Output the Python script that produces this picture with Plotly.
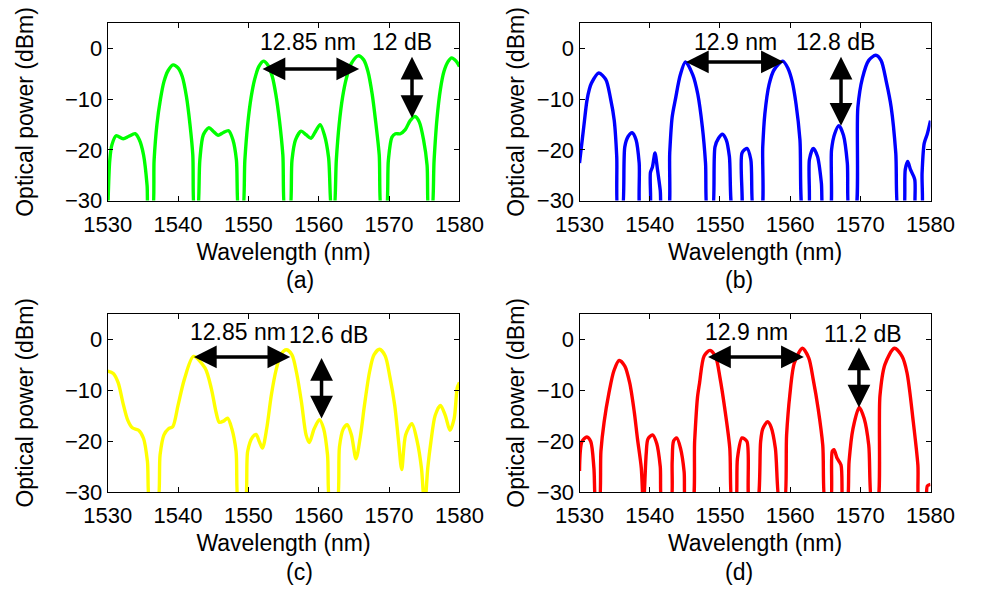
import plotly.graph_objects as go

# Measured optical spectra (wavelength in nm, power in dBm) for the four cases
wl_a = [1530.0, 1530.3, 1530.6, 1531.2, 1532.2, 1533.0, 1533.9, 1534.5, 1535.1, 1535.6, 1535.85,
        1536.3, 1536.6, 1537.0, 1537.5, 1538.0, 1538.6, 1539.3, 1540.0, 1540.6, 1541.2, 1541.7, 1542.1, 1542.4,
        1542.7, 1543.1, 1543.6, 1544.4, 1545.0, 1545.7, 1546.4, 1547.2, 1547.8, 1548.3, 1548.7,
        1549.1, 1549.5, 1549.9, 1550.4, 1550.9, 1551.5, 1552.15, 1552.8, 1553.4, 1553.9, 1554.4, 1554.9, 1555.3,
        1555.8, 1556.2, 1556.7, 1557.5, 1558.2, 1558.9, 1559.6, 1560.2, 1560.8, 1561.4, 1561.9,
        1562.1, 1562.5, 1562.9, 1563.4, 1563.9, 1564.6, 1565.6, 1566.4, 1567.0, 1567.6, 1568.1, 1568.6, 1569.0,
        1569.5, 1569.9, 1570.4, 1570.9, 1571.6, 1572.3, 1573.0, 1573.7, 1574.3, 1574.9, 1575.4, 1575.7,
        1576.0, 1576.4, 1576.8, 1577.3, 1577.8, 1578.4, 1578.9, 1579.5, 1580.0]
pw_a = [-33, -22, -19, -17.2, -17.8, -17.3, -16.8, -18, -21, -27, -33,
        -33, -22, -15, -10, -6.5, -4.3, -3.2, -3.8, -5.5, -9.5, -15, -21, -33,
        -33, -22, -17, -15.6, -16.3, -17.1, -16.6, -16.2, -18, -22, -33,
        -33, -22, -15, -9.5, -6, -3.5, -2.45, -3.3, -5.5, -9, -14, -21, -33,
        -33, -22, -18, -16.3, -17, -17.7, -16.2, -15.0, -17, -21.5, -33,
        -33, -22, -15, -9.5, -6, -3, -1.4, -2.2, -4.5, -9, -14.5, -21, -33,
        -33, -22, -17.5, -16.8, -16.8, -16, -14.2, -13.4, -14.5, -18, -23, -33,
        -33, -22, -14, -8, -4.5, -2.5, -1.8, -2.4, -3.5]

wl_b = [1530.0, 1530.6, 1531.05, 1531.4, 1531.7, 1532.75, 1533.75, 1534.4, 1534.95, 1535.3, 1535.55,
        1536.0, 1536.45, 1536.9, 1537.5, 1538.05, 1538.5, 1538.8,
        1539.9, 1540.1, 1540.4, 1540.75, 1541.1, 1541.5, 1541.8,
        1542.55, 1542.85, 1543.2, 1543.7, 1544.35, 1545.1, 1546.15, 1546.85, 1547.5, 1547.95, 1548.3,
        1548.85, 1549.3, 1549.8, 1550.35, 1550.9, 1551.35, 1551.95,
        1552.95, 1553.15, 1553.85, 1554.4, 1554.9,
        1555.8, 1556.1, 1556.4, 1557.0, 1557.7, 1558.95, 1559.7, 1560.3, 1560.85, 1561.4, 1561.9,
        1562.55, 1562.75, 1563.3, 1563.9, 1564.45, 1564.8,
        1565.6, 1565.9, 1566.35, 1566.95, 1567.6, 1568.15, 1568.5,
        1569.2, 1569.65, 1570.3, 1571.2, 1572.2, 1572.95, 1573.7, 1574.4, 1575.05, 1575.5,
        1576.1, 1576.4, 1576.75, 1577.15, 1577.75, 1577.95,
        1578.65, 1578.8, 1579.1, 1579.55, 1580.0]
pw_b = [-22.6, -15.5, -10.3, -8, -6.8, -4.8, -6.1, -9.7, -14.2, -21.3, -33,
        -33, -19.4, -17.4, -16.6, -18, -22.6, -33,
        -33, -24.5, -23.3, -20.6, -23.8, -28, -33,
        -33, -20.6, -13.5, -9.7, -5.2, -2.6, -5.2, -9, -15.5, -22.6, -33,
        -33, -19.4, -17.7, -16.9, -18, -21.3, -33,
        -33, -20.6, -19.7, -21.9, -33,
        -33, -19.4, -12.9, -7.1, -4.2, -2.45, -3.9, -6.5, -11, -18, -33,
        -33, -21.9, -19.7, -21.3, -26.5, -33,
        -33, -20, -16.8, -15.2, -17.1, -22.6, -33,
        -33, -11.6, -5.8, -2.3, -1.3, -2.3, -6.5, -11.6, -20.6, -33,
        -33, -23.9, -22.3, -23.9, -25.8, -33,
        -33, -24.5, -18.7, -16.8, -14.2]

wl_c = [1530.0, 1530.8, 1531.5, 1532.15, 1532.85, 1533.5, 1534.4, 1535.1, 1535.65, 1536.1,
        1537.0, 1537.45, 1538.0, 1538.65, 1539.25, 1540.0, 1540.9, 1542.2, 1543.85, 1544.75,
        1545.4, 1545.85, 1546.45, 1547.05, 1547.65, 1548.25, 1548.7,
        1549.45, 1549.9, 1550.6, 1551.1, 1551.55, 1552.0, 1552.6, 1553.25, 1553.95, 1554.6, 1555.4,
        1556.2, 1556.85, 1557.55, 1558.2, 1558.65, 1559.35, 1560.1, 1560.7, 1561.25, 1561.7,
        1562.5, 1562.95, 1563.5, 1564.05, 1564.65, 1565.3, 1565.95, 1566.5, 1567.2, 1567.85, 1568.65,
        1569.45, 1570.1, 1570.8, 1571.35, 1571.8, 1572.35, 1573.25, 1574.0, 1574.6, 1575.05,
        1575.5, 1575.95, 1576.55, 1577.3, 1578.0, 1578.65, 1579.25, 1579.7, 1580.0]
pw_c = [-6.3, -6.75, -8.6, -12.4, -15.9, -17.4, -17.9, -19.5, -24, -33,
        -33, -22.7, -18.8, -17.6, -17.2, -13, -7.9, -3.4, -5.7, -9.8,
        -14.3, -16.3, -16.1, -15.5, -17.6, -22, -33,
        -33, -22, -19.2, -18.7, -20.1, -21.4, -17.6, -11.1, -6, -3.1, -2.1,
        -3.1, -6.6, -12.4, -18.8, -20.3, -17.6, -15.8, -17.6, -22.7, -33,
        -33, -21.1, -17.6, -16.8, -18.8, -23.5, -18.8, -13, -6.6, -3.1, -2.0,
        -3.3, -7.3, -13, -20.1, -25.6, -18.8, -16.6, -20.1, -25.3, -33,
        -25.3, -20.1, -15, -13, -15, -17.9, -15.6, -9.5, -8.5]

wl_d = [1530.0, 1530.35, 1531.05, 1531.6, 1532.05, 1532.4,
        1532.75, 1533.05, 1533.5, 1534.2, 1534.9, 1535.65, 1536.45, 1537.15, 1537.8, 1538.25, 1538.8, 1539.1,
        1539.5, 1539.75, 1540.4, 1541.0, 1541.5, 1541.85,
        1542.9, 1543.2, 1543.4, 1543.85, 1544.4, 1544.9, 1545.2,
        1546.0, 1546.4, 1546.8, 1547.1, 1547.75, 1548.6, 1549.4, 1550.0, 1550.7, 1551.4, 1551.8,
        1552.2, 1552.5, 1553.15, 1553.85, 1554.3,
        1555.2, 1555.8, 1556.1, 1556.8, 1557.3, 1557.9, 1558.6,
        1559.1, 1559.5, 1559.95, 1560.6, 1561.75, 1562.65, 1563.3, 1564.0, 1564.65, 1565.1,
        1565.7, 1566.0, 1566.25, 1566.7, 1567.25, 1567.6,
        1568.05, 1568.4, 1568.95, 1569.85, 1570.55, 1571.2, 1571.75,
        1572.35, 1572.8, 1573.5, 1574.85, 1575.95, 1576.65, 1577.55, 1578.2, 1578.45,
        1579.25, 1579.55, 1580.0]
pw_d = [-25.9, -20.1, -19.2, -20.1, -25.3, -33,
        -33, -22, -16.3, -10.5, -6.2, -4.2, -5.3, -8.6, -14.3, -19.5, -25.3, -33,
        -22.5, -19.6, -18.8, -20.5, -25, -33,
        -33, -24, -20, -19.4, -21.5, -26, -33,
        -33, -20, -11.5, -8.6, -3.3, -2.2, -3.5, -7.5, -13.7, -21.3, -33,
        -33, -23.4, -19.4, -20.1, -33,
        -33, -20.1, -17.6, -16.2, -17.3, -21.4, -33,
        -33, -18.8, -11.1, -4.7, -1.8, -3.7, -8, -13.7, -20.8, -33,
        -33, -22, -21.7, -23.4, -24.7, -33,
        -33, -24, -17.6, -13.4, -15.6, -20.8, -33,
        -33, -11.1, -5, -1.8, -3.4, -6.6, -16.3, -24.7, -33,
        -33, -28.8, -28.5]

colors = ["#00ff00", "#0000ff", "#ffff00", "#ff0000"]
panel_labels = ["(a)", "(b)", "(c)", "(d)"]

# Channel spacing arrows: [start wavelength, end wavelength, power]
spacing_arrows = [[1551.8, 1565.75, -4.0], [1544.95, 1559.1, -2.6],
                  [1542.05, 1555.95, -3.5], [1548.1, 1561.95, -3.5]]
spacing_text = ["12.85 nm", "12.9 nm", "12.85 nm", "12.9 nm"]
spacing_text_pos = [[1558.45, 1.3], [1552.15, 1.3], [1548.55, 1.4], [1553.75, 1.4]]

# Extinction arrows: [wavelength, top power, bottom power]
depth_arrows = [[1573.26, -1.3, -13.7], [1567.25, -1.3, -15.2],
                [1560.4, -3.4, -15.6], [1569.8, -1.35, -13.4]]
depth_text = ["12 dB", "12.8 dB", "12.6 dB", "11.2 dB"]
depth_text_pos = [[1571.9, 1.3], [1566.5, 1.3], [1561.35, 0.8], [1570.4, 1.1]]

x_ticks = [1530, 1540, 1550, 1560, 1570, 1580]
y_ticks = [-30, -20, -10, 0]

FONT = "Liberation Sans, Arial, Helvetica, sans-serif"
TICK_FS = 22
TITLE_FS = 23
NOTE_FS = 23

x_domains = [[0.0894, 0.4652], [0.5935, 0.9685], [0.0894, 0.4652], [0.5935, 0.9685]]
y_domains = [[0.6537, 0.9595], [0.6537, 0.9595], [0.1503, 0.4583], [0.1503, 0.4583]]
y_title_standoff = [24, 5, 24, 5]

series = [(wl_a, pw_a), (wl_b, pw_b), (wl_c, pw_c), (wl_d, pw_d)]

fig = go.Figure()
layout = dict(
    width=984, height=592,
    margin=dict(l=0, r=0, t=0, b=0),
    paper_bgcolor="white", plot_bgcolor="white",
    showlegend=False,
    font=dict(family=FONT, size=TICK_FS, color="black"),
)
annotations = []
arrow_style = dict(text="", showarrow=True, arrowhead=2, startarrowhead=2,
                   arrowside="end+start", arrowwidth=3.5, arrowsize=1.3,
                   startarrowsize=1.3, arrowcolor="black", standoff=0, startstandoff=0)

for i, (wl, pw) in enumerate(series):
    n = "" if i == 0 else str(i + 1)
    xa, ya = "x" + n, "y" + n
    fig.add_trace(go.Scatter(x=wl, y=pw, mode="lines", xaxis=xa, yaxis=ya,
                             line=dict(color=colors[i], width=3.4, shape="spline", smoothing=0.8),
                             hoverinfo="skip"))
    axis_common = dict(showline=True, linecolor="black", linewidth=1, mirror="ticks",
                       ticks="inside", ticklen=5, tickwidth=1, tickcolor="black",
                       showgrid=False, zeroline=False,
                       tickfont=dict(family=FONT, size=TICK_FS, color="black"))
    layout["xaxis" + n] = dict(domain=x_domains[i], range=[1530, 1580], tickvals=x_ticks,
                               anchor=ya, ticklabelstandoff=4,
                               title=dict(text="Wavelength (nm)", standoff=7,
                                          font=dict(family=FONT, size=TITLE_FS)),
                               **axis_common)
    layout["yaxis" + n] = dict(domain=y_domains[i], range=[-30, 5], tickvals=y_ticks,
                               anchor=xa,
                               title=dict(text="Optical power (dBm)", standoff=y_title_standoff[i],
                                          font=dict(family=FONT, size=TITLE_FS)),
                               **axis_common)

    x0, x1, yh = spacing_arrows[i]
    annotations.append(dict(x=x1, y=yh, ax=x0, ay=yh, xref=xa, yref=ya, axref=xa, ayref=ya,
                            **arrow_style))
    xv, yt, yb = depth_arrows[i]
    annotations.append(dict(x=xv, y=yb, ax=xv, ay=yt, xref=xa, yref=ya, axref=xa, ayref=ya,
                            **arrow_style))
    annotations.append(dict(x=spacing_text_pos[i][0], y=spacing_text_pos[i][1], xref=xa, yref=ya,
                            text=spacing_text[i], showarrow=False,
                            font=dict(family=FONT, size=NOTE_FS, color="black")))
    annotations.append(dict(x=depth_text_pos[i][0], y=depth_text_pos[i][1], xref=xa, yref=ya,
                            text=depth_text[i], showarrow=False,
                            font=dict(family=FONT, size=NOTE_FS, color="black")))
    # panel letter under the axis title
    annotations.append(dict(x=sum(x_domains[i]) / 2, y=y_domains[i][0] - 0.138,
                            xref="paper", yref="paper", text=panel_labels[i], showarrow=False,
                            yanchor="middle", font=dict(family=FONT, size=TITLE_FS, color="black")))

layout["annotations"] = annotations
fig.update_layout(**layout)
fig.write_html("out.html")
